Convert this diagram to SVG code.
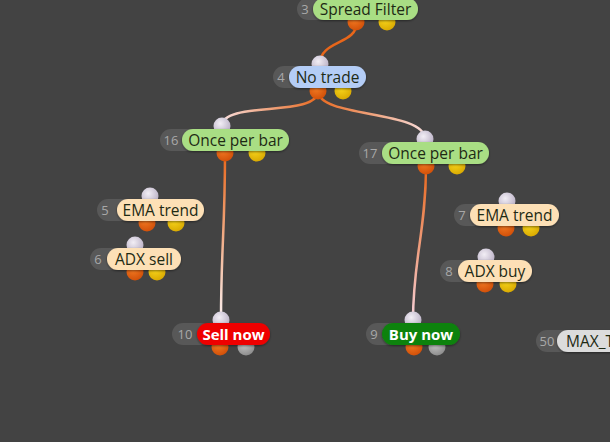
<svg xmlns="http://www.w3.org/2000/svg" width="610" height="442" viewBox="0 0 610 442">
<defs>
<style>
.num{font-family:"Open Sans","Liberation Sans",sans-serif;font-size:13px;fill:#a8a8a8}
.lbl{font-family:"Open Sans","Liberation Sans",sans-serif;font-size:15.5px;fill:#1e2a14}
.bold{font-family:"Open Sans","Liberation Sans",sans-serif;font-size:15px;font-weight:bold;fill:#ffffff}
.gp{fill:#585858}
.wire{fill:none;stroke-width:2.5;stroke-linecap:round}
</style>
<radialGradient id="gin" cx="0.4" cy="0.35" r="0.7"><stop offset="0" stop-color="#f2eef5"/><stop offset="1" stop-color="#b8aec4"/></radialGradient>
<radialGradient id="gor" cx="0.4" cy="0.35" r="0.7"><stop offset="0" stop-color="#f27a22"/><stop offset="1" stop-color="#d04e08"/></radialGradient>
<radialGradient id="gye" cx="0.4" cy="0.35" r="0.7"><stop offset="0" stop-color="#f7d51c"/><stop offset="1" stop-color="#d8a800"/></radialGradient>
<radialGradient id="ggr" cx="0.4" cy="0.35" r="0.7"><stop offset="0" stop-color="#c4c4c4"/><stop offset="1" stop-color="#8a8a8a"/></radialGradient>
<linearGradient id="w416" gradientUnits="userSpaceOnUse" x1="318" y1="92" x2="222" y2="126"><stop offset="0" stop-color="#e8661a"/><stop offset="1" stop-color="#f8e0e0"/></linearGradient>
<linearGradient id="w417" gradientUnits="userSpaceOnUse" x1="318" y1="92" x2="425" y2="139"><stop offset="0" stop-color="#e8661a"/><stop offset="1" stop-color="#f8e0e0"/></linearGradient>
<linearGradient id="w1610" gradientUnits="userSpaceOnUse" x1="225" y1="153" x2="221" y2="320"><stop offset="0" stop-color="#e8661a"/><stop offset="1" stop-color="#faf0f0"/></linearGradient>
<linearGradient id="w179" gradientUnits="userSpaceOnUse" x1="426" y1="166" x2="413" y2="320"><stop offset="0" stop-color="#e8661a"/><stop offset="1" stop-color="#f6d0d8"/></linearGradient>
<filter id="sh" x="-10%" y="-30%" width="120%" height="160%"><feDropShadow dx="0" dy="1" stdDeviation="1.2" flood-color="#000" flood-opacity="0.45"/></filter>
</defs>
<rect width="610" height="442" fill="#434343"/>
<g id="connectors">
<path class="wire" stroke="#e8661a" d="M357,22 C357,45 320,40 320,64"/>
<path class="wire" stroke="url(#w416)" d="M318,91 C318,118 222,100 222,126"/>
<path class="wire" stroke="url(#w417)" d="M318,91 C318,118 425,110 425,139"/>
<path class="wire" stroke="url(#w1610)" d="M225,153 C225,230 221,250 221,320"/>
<path class="wire" stroke="url(#w179)" d="M426,166 C426,230 413,260 413,320"/>
</g>
<g id="node3">
<rect class="gp" x="297" y="-2" width="40" height="22" rx="11"/>
<circle cx="356" cy="22" r="8.5" fill="url(#gor)"/>
<circle cx="387" cy="22" r="8.5" fill="url(#gye)"/>
<rect x="313" y="-2" width="105" height="22" rx="11" fill="#a9de84" filter="url(#sh)"/>
<text class="num" x="305" y="13.5" text-anchor="middle">3</text>
<text class="lbl" x="365.5" y="14.5" text-anchor="middle">Spread Filter</text>
</g>
<g id="node4">
<rect class="gp" x="273" y="66" width="40" height="22" rx="11"/>
<circle cx="320" cy="64" r="8.5" fill="url(#gin)"/>
<circle cx="318" cy="91" r="8.5" fill="url(#gor)"/>
<circle cx="343" cy="91" r="8.5" fill="url(#gye)"/>
<rect x="289" y="66" width="77" height="22" rx="11" fill="#b4cdf6" filter="url(#sh)"/>
<text class="num" x="281" y="81.5" text-anchor="middle">4</text>
<text class="lbl" x="327.5" y="82.5" text-anchor="middle" fill="#1a2436">No trade</text>
</g>
<g id="node16">
<rect class="gp" x="160" y="129" width="50" height="22" rx="11"/>
<circle cx="222" cy="126" r="8.5" fill="url(#gin)"/>
<circle cx="225" cy="153" r="8.5" fill="url(#gor)"/>
<circle cx="257" cy="153" r="8.5" fill="url(#gye)"/>
<rect x="182" y="129" width="107" height="22" rx="11" fill="#a9de84" filter="url(#sh)"/>
<text class="num" x="171" y="144.5" text-anchor="middle">16</text>
<text class="lbl" x="235.5" y="145.5" text-anchor="middle">Once per bar</text>
</g>
<g id="node17">
<rect class="gp" x="359" y="142" width="50" height="22" rx="11"/>
<circle cx="425" cy="139" r="8.5" fill="url(#gin)"/>
<circle cx="426" cy="166" r="8.5" fill="url(#gor)"/>
<circle cx="457" cy="166" r="8.5" fill="url(#gye)"/>
<rect x="382" y="142" width="107" height="22" rx="11" fill="#a9de84" filter="url(#sh)"/>
<text class="num" x="370" y="157.5" text-anchor="middle">17</text>
<text class="lbl" x="435.5" y="158.5" text-anchor="middle">Once per bar</text>
</g>
<g id="node5">
<rect class="gp" x="97" y="199" width="40" height="22" rx="11"/>
<circle cx="150" cy="196" r="8.5" fill="url(#gin)"/>
<circle cx="147" cy="223" r="8.5" fill="url(#gor)"/>
<circle cx="176" cy="223" r="8.5" fill="url(#gye)"/>
<rect x="117" y="199" width="87" height="22" rx="11" fill="#fde0b6" filter="url(#sh)"/>
<text class="num" x="105" y="214.5" text-anchor="middle">5</text>
<text class="lbl" x="160.5" y="215.5" text-anchor="middle" fill="#2a2014">EMA trend</text>
</g>
<g id="node6">
<rect class="gp" x="90" y="248" width="40" height="22" rx="11"/>
<circle cx="135" cy="245" r="8.5" fill="url(#gin)"/>
<circle cx="135" cy="272" r="8.5" fill="url(#gor)"/>
<circle cx="157" cy="272" r="8.5" fill="url(#gye)"/>
<rect x="107" y="248" width="74" height="22" rx="11" fill="#fde0b6" filter="url(#sh)"/>
<text class="num" x="98" y="263.5" text-anchor="middle">6</text>
<text class="lbl" x="144" y="264.5" text-anchor="middle" fill="#2a2014">ADX sell</text>
</g>
<g id="node7">
<rect class="gp" x="454" y="204" width="40" height="22" rx="11"/>
<circle cx="507" cy="201" r="8.5" fill="url(#gin)"/>
<circle cx="506" cy="228" r="8.5" fill="url(#gor)"/>
<circle cx="531" cy="228" r="8.5" fill="url(#gye)"/>
<rect x="470" y="204" width="89" height="22" rx="11" fill="#fde0b6" filter="url(#sh)"/>
<text class="num" x="462" y="219.5" text-anchor="middle">7</text>
<text class="lbl" x="514.5" y="220.5" text-anchor="middle" fill="#2a2014">EMA trend</text>
</g>
<g id="node8">
<rect class="gp" x="440" y="260" width="40" height="22" rx="11"/>
<circle cx="486" cy="257" r="8.5" fill="url(#gin)"/>
<circle cx="485" cy="284" r="8.5" fill="url(#gor)"/>
<circle cx="508" cy="284" r="8.5" fill="url(#gye)"/>
<rect x="458" y="260" width="74" height="22" rx="11" fill="#fde0b6" filter="url(#sh)"/>
<text class="num" x="449" y="275.5" text-anchor="middle">8</text>
<text class="lbl" x="495" y="276.5" text-anchor="middle" fill="#2a2014">ADX buy</text>
</g>
<g id="node10">
<rect class="gp" x="172" y="323" width="40" height="22" rx="11"/>
<circle cx="221" cy="320" r="8.5" fill="url(#gin)"/>
<circle cx="220" cy="347" r="8.5" fill="url(#gor)"/>
<circle cx="246" cy="347" r="8.5" fill="url(#ggr)"/>
<rect x="197" y="323" width="73" height="22" rx="11" fill="#ee0000" filter="url(#sh)"/>
<text class="num" x="185" y="338.5" text-anchor="middle">10</text>
<text class="bold" x="233.5" y="339.5" text-anchor="middle">Sell now</text>
</g>
<g id="node9">
<rect class="gp" x="366" y="323" width="40" height="22" rx="11"/>
<circle cx="413" cy="320" r="8.5" fill="url(#gin)"/>
<circle cx="414" cy="347" r="8.5" fill="url(#gor)"/>
<circle cx="437" cy="347" r="8.5" fill="url(#ggr)"/>
<rect x="382" y="323" width="78" height="22" rx="11" fill="#0f820f" filter="url(#sh)"/>
<text class="num" x="374" y="338.5" text-anchor="middle">9</text>
<text class="bold" x="421" y="339.5" text-anchor="middle">Buy now</text>
</g>
<g id="node50">
<rect class="gp" x="536" y="330" width="40" height="22" rx="11"/>
<rect x="557" y="330" width="90" height="22" rx="11" fill="#dcdcdc" filter="url(#sh)"/>
<text class="num" x="547" y="345.5" text-anchor="middle">50</text>
<text class="lbl" x="566" y="346.5" fill="#333333">MAX_T</text>
</g>
</svg>
